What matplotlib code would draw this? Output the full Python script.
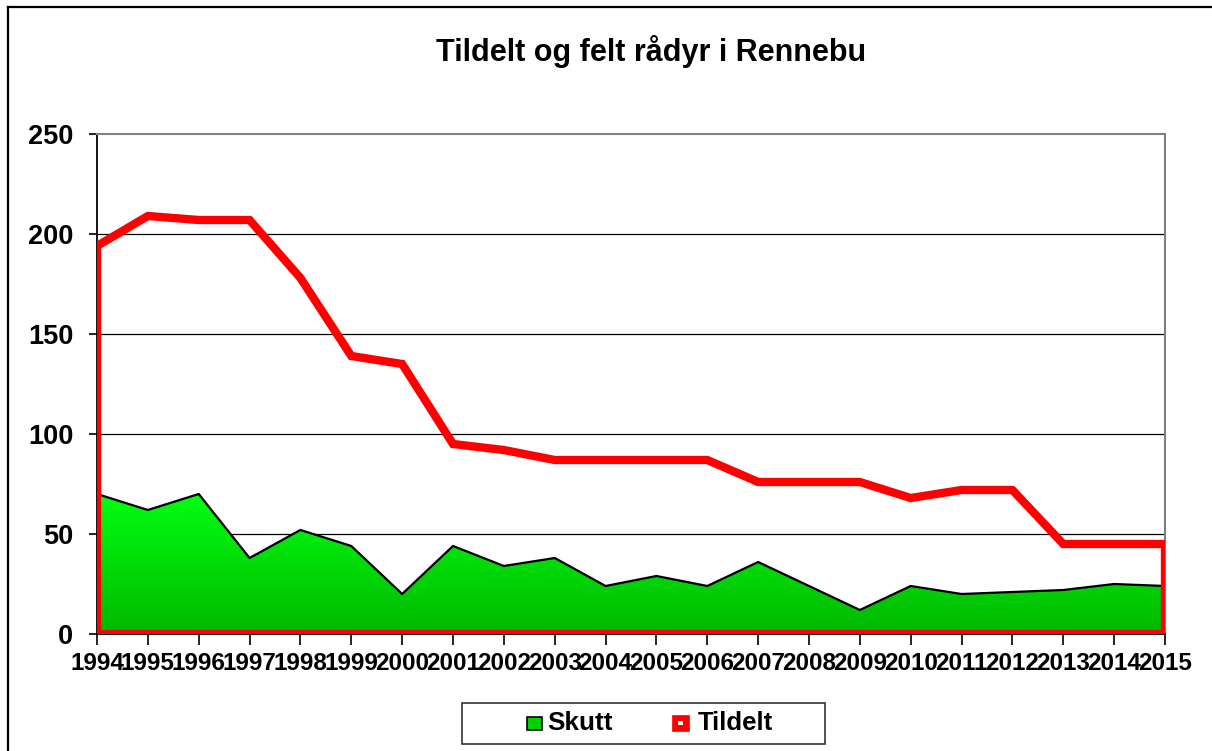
import numpy as np
import matplotlib.pyplot as plt
from matplotlib.colors import LinearSegmentedColormap
from matplotlib.patches import Rectangle
from matplotlib.lines import Line2D

plt.rcParams['font.family'] = ['Liberation Sans', 'DejaVu Sans']

# data
years = np.arange(1994, 2016)
tildelt = [194, 209, 207, 207, 178, 139, 135, 95, 92, 87, 87,
           87, 87, 76, 76, 76, 68, 72, 72, 45, 45, 45]
skutt = [70, 62, 70, 38, 52, 44, 20, 44, 34, 38, 24,
         29, 24, 36, 24, 12, 24, 20, 21, 22, 25, 24]
title = 'Tildelt og felt rådyr i Rennebu'
yticks = [0, 50, 100, 150, 200, 250]

fig = plt.figure(figsize=(12.12, 7.51), dpi=100)
ax = fig.add_axes([97/1212, 117/751, 1068/1212, 500/751])

# gridlines
for yv in yticks[1:-1]:
    ax.axhline(yv, color='black', lw=0.9, zorder=1)

# Skutt: green area with vertical gradient
poly = ax.fill_between(years, 0, skutt, color='none', zorder=2)
cmap = LinearSegmentedColormap.from_list('grn', ['#00b800', '#00ff10'])
grad = np.linspace(0, 1, 256).reshape(-1, 1)
im = ax.imshow(grad, cmap=cmap, origin='lower', aspect='auto',
               extent=[1994, 2015, 0, max(skutt)], zorder=2)
im.set_clip_path(poly.get_paths()[0], transform=ax.transData)
ax.plot(years, skutt, color='black', lw=1.6, zorder=3)

# Tildelt: area outline only (red)
tx = np.concatenate([[years[0]], years, [years[-1], years[0]]])
ty = np.concatenate([[0], tildelt, [0, 0]])
ax.plot(tx, ty, color='#ff0000', lw=6, solid_joinstyle='miter', zorder=4)

ax.set_xlim(1994, 2015)
ax.set_ylim(0, 250)
ax.set_xticks(years)
ax.set_xticklabels([str(y) for y in years], fontsize=17.5, fontweight='bold')
ax.set_yticks(yticks)
ax.set_yticklabels([str(v) for v in yticks], fontsize=19.5, fontweight='bold')
ax.tick_params(axis='x', direction='out', length=8, width=1.2, pad=5)
ax.tick_params(axis='y', direction='out', length=6, width=1.2, pad=11)
ax.spines['left'].set_color('black')
ax.spines['bottom'].set_color('black')
ax.spines['left'].set_linewidth(1.3)
ax.spines['bottom'].set_linewidth(1.3)
ax.spines['top'].set_color('#808080')
ax.spines['right'].set_color('#808080')
ax.spines['top'].set_linewidth(1.5)
ax.spines['right'].set_linewidth(1.5)

fig.text(651/1212, 1 - 52/751, title, ha='center', va='center',
         fontsize=22, fontweight='bold')

# outer chart frame
fig.add_artist(Line2D([8/1212, 1], [1 - 7/751, 1 - 7/751], color='black', lw=1.6))
fig.add_artist(Line2D([8/1212, 8/1212], [0, 1 - 7/751], color='black', lw=1.6))

# legend
fig.add_artist(Rectangle((462/1212, 7/751), 363/1212, 41/751, transform=fig.transFigure,
                         facecolor='white', edgecolor='#333333', lw=1.2))
fig.add_artist(Rectangle((527/1212, (751-730)/751), 15/1212, 13/751,
                         transform=fig.transFigure, facecolor='#00d000',
                         edgecolor='black', lw=1.2))
fig.text(547/1212, 1 - 723/751, 'Skutt', ha='left', va='center',
         fontsize=18.7, fontweight='bold')
fig.add_artist(Rectangle((672/1212, (751-731)/751), 17/1212, 16/751,
                         transform=fig.transFigure, facecolor='#ff0000',
                         edgecolor='#ff0000', lw=0.5))
fig.add_artist(Rectangle((678/1212, (751-725)/751), 5/1212, 4/751,
                         transform=fig.transFigure, facecolor='white',
                         edgecolor='none'))
fig.text(698/1212, 1 - 723/751, 'Tildelt', ha='left', va='center',
         fontsize=18.5, fontweight='bold')

fig.savefig('out.png', dpi=100)
